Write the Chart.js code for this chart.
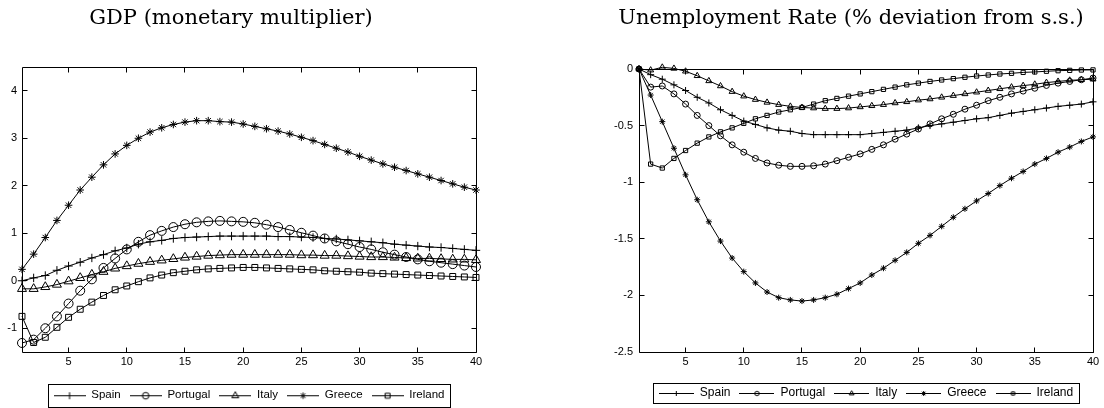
<!DOCTYPE html>
<html>
<head>
<meta charset="utf-8">
<script src="https://cdn.jsdelivr.net/npm/chart.js@4/dist/chart.umd.min.js"></script>
<style>
html,body{margin:0;padding:0;background:#fff;}
#wrap{position:relative;width:1104px;height:408px;overflow:hidden;background:#fff;}
canvas{position:absolute;top:0;}
#gdpChart{left:0;}
#unempChart{left:552px;}
</style>
</head>
<body>
<div id="wrap">
<canvas id="gdpChart" width="552" height="408"></canvas>
<canvas id="unempChart" width="552" height="408"></canvas>
</div>
<script>
// ---------------- data ----------------
const periods = [1,2,3,4,5,6,7,8,9,10,11,12,13,14,15,16,17,18,19,20,21,22,23,24,25,26,27,28,29,30,31,32,33,34,35,36,37,38,39,40];
const countries = ['Spain','Portugal','Italy','Greece','Ireland'];
const markerStyles = ['cross','circle','triangle','star','rect'];

const gdpTitle = 'GDP (monetary multiplier)';
const unempTitle = 'Unemployment Rate (% deviation from s.s.)';

const xTickValues = [5,10,15,20,25,30,35,40];
const gdpYTicks = [-1,0,1,2,3,4];
const unempYTicks = [-2.5,-2,-1.5,-1,-0.5,0];

const gdpSpain    = [0.00,0.06,0.11,0.22,0.31,0.39,0.48,0.55,0.63,0.69,0.77,0.82,0.85,0.89,0.91,0.92,0.93,0.94,0.94,0.94,0.94,0.94,0.93,0.93,0.92,0.91,0.89,0.88,0.86,0.84,0.82,0.80,0.77,0.75,0.73,0.71,0.70,0.68,0.66,0.64];
const gdpPortugal = [-1.31,-1.24,-1.00,-0.75,-0.48,-0.21,0.03,0.27,0.47,0.66,0.82,0.96,1.05,1.13,1.19,1.23,1.25,1.26,1.25,1.24,1.22,1.18,1.13,1.07,1.01,0.95,0.89,0.83,0.77,0.71,0.66,0.60,0.55,0.50,0.45,0.41,0.38,0.35,0.32,0.29];
const gdpItaly    = [-0.17,-0.17,-0.13,-0.08,-0.01,0.06,0.13,0.19,0.26,0.31,0.36,0.40,0.43,0.46,0.49,0.51,0.53,0.54,0.55,0.55,0.55,0.55,0.55,0.55,0.54,0.54,0.53,0.53,0.52,0.51,0.50,0.50,0.49,0.48,0.47,0.47,0.46,0.45,0.45,0.44];
const gdpGreece   = [0.24,0.56,0.91,1.27,1.59,1.91,2.18,2.44,2.67,2.85,3.00,3.13,3.22,3.29,3.34,3.37,3.37,3.35,3.34,3.30,3.25,3.20,3.15,3.09,3.02,2.95,2.87,2.79,2.71,2.62,2.54,2.46,2.39,2.32,2.25,2.18,2.11,2.04,1.97,1.91];
const gdpIreland  = [-0.75,-1.30,-1.19,-0.98,-0.77,-0.60,-0.45,-0.31,-0.19,-0.11,-0.02,0.06,0.12,0.17,0.20,0.23,0.25,0.26,0.27,0.28,0.28,0.27,0.26,0.25,0.24,0.23,0.21,0.20,0.19,0.18,0.16,0.15,0.14,0.13,0.12,0.11,0.10,0.09,0.08,0.07];

const unempSpain    = [0,-0.05,-0.09,-0.14,-0.19,-0.25,-0.30,-0.36,-0.41,-0.46,-0.49,-0.52,-0.54,-0.55,-0.57,-0.58,-0.58,-0.58,-0.58,-0.58,-0.57,-0.56,-0.55,-0.54,-0.52,-0.50,-0.485,-0.47,-0.455,-0.44,-0.43,-0.41,-0.39,-0.375,-0.36,-0.345,-0.33,-0.32,-0.31,-0.29];
const unempPortugal = [0,-0.16,-0.15,-0.22,-0.31,-0.41,-0.50,-0.59,-0.67,-0.735,-0.79,-0.83,-0.85,-0.86,-0.86,-0.855,-0.84,-0.81,-0.78,-0.75,-0.71,-0.67,-0.62,-0.575,-0.53,-0.485,-0.44,-0.40,-0.355,-0.32,-0.28,-0.25,-0.22,-0.195,-0.17,-0.145,-0.125,-0.11,-0.095,-0.08];
const unempItaly    = [0,-0.01,0.015,0.005,-0.02,-0.06,-0.105,-0.15,-0.20,-0.24,-0.27,-0.295,-0.315,-0.33,-0.34,-0.345,-0.35,-0.35,-0.345,-0.335,-0.325,-0.315,-0.30,-0.29,-0.275,-0.265,-0.25,-0.235,-0.22,-0.205,-0.19,-0.175,-0.16,-0.147,-0.135,-0.12,-0.11,-0.10,-0.095,-0.09];
const unempGreece   = [0,-0.23,-0.465,-0.70,-0.935,-1.155,-1.35,-1.52,-1.67,-1.79,-1.89,-1.97,-2.02,-2.04,-2.05,-2.04,-2.02,-1.99,-1.94,-1.89,-1.82,-1.76,-1.69,-1.62,-1.54,-1.47,-1.39,-1.31,-1.235,-1.165,-1.10,-1.03,-0.965,-0.905,-0.84,-0.79,-0.735,-0.69,-0.64,-0.60];
const unempIreland  = [0,-0.84,-0.875,-0.79,-0.72,-0.655,-0.60,-0.555,-0.52,-0.48,-0.44,-0.41,-0.38,-0.36,-0.34,-0.31,-0.28,-0.26,-0.24,-0.22,-0.20,-0.18,-0.16,-0.14,-0.125,-0.11,-0.097,-0.085,-0.073,-0.062,-0.053,-0.044,-0.038,-0.03,-0.026,-0.02,-0.015,-0.012,-0.009,-0.008];

// ---------------- helpers ----------------
Chart.defaults.color = '#000';
const TICK_FONT = {family: "'Liberation Sans', Arial, Helvetica, sans-serif", size: 11};

function drawMarker(g, style, r, cx, cy) {
  if (Chart.helpers && Chart.helpers.drawPoint) {
    Chart.helpers.drawPoint(g, {pointStyle: style, radius: r, rotation: 0, borderWidth: 1}, cx, cy);
    return;
  }
  g.beginPath();
  if (style === 'circle') { g.arc(cx, cy, r, 0, Math.PI*2); }
  else if (style === 'rect') { const s = r*Math.SQRT1_2; g.rect(cx-s, cy-s, 2*s, 2*s); }
  else if (style === 'triangle') { g.moveTo(cx, cy-r); g.lineTo(cx+0.866*r, cy+0.5*r); g.lineTo(cx-0.866*r, cy+0.5*r); g.closePath(); }
  else { g.moveTo(cx, cy-r); g.lineTo(cx, cy+r); g.moveTo(cx-r, cy); g.lineTo(cx+r, cy);
    if (style === 'star') { const d = r*Math.SQRT1_2; g.moveTo(cx-d, cy-d); g.lineTo(cx+d, cy+d); g.moveTo(cx-d, cy+d); g.lineTo(cx+d, cy-d); } }
  g.stroke();
}

function legendIcon(style, r, w, h) {
  const c = document.createElement('canvas');
  c.width = w; c.height = h;
  const g = c.getContext('2d');
  g.strokeStyle = '#000'; g.fillStyle = 'rgba(0,0,0,0)'; g.lineWidth = 1;
  g.beginPath(); g.moveTo(0, Math.floor(h/2)+0.5); g.lineTo(w, Math.floor(h/2)+0.5); g.stroke();
  drawMarker(g, style, r, w/2, Math.floor(h/2)+0.5);
  return c;
}

const framePlugin = {
  id: 'frame',
  beforeDatasetsDraw(chart, args, o) {
    const {ctx, chartArea: a, scales} = chart;
    const x = scales.x, y = scales.y, L = o.tickLength || 5;
    const l = Math.floor(a.left)+0.5, r = Math.floor(a.right)+0.5, t = Math.floor(a.top)+0.5, b = Math.floor(a.bottom)+0.5;
    ctx.save();
    ctx.strokeStyle = '#000'; ctx.lineWidth = 1;
    ctx.beginPath();
    ctx.rect(l, t, r-l, b-t);
    x.ticks.forEach(tk => {
      const px = Math.floor(x.getPixelForValue(tk.value))+0.5;
      ctx.moveTo(px, b); ctx.lineTo(px, b-L);
      ctx.moveTo(px, t); ctx.lineTo(px, t+L);
    });
    y.ticks.forEach(tk => {
      const py = Math.floor(y.getPixelForValue(tk.value))+0.5;
      ctx.moveTo(l, py); ctx.lineTo(l+L, py);
      ctx.moveTo(r, py); ctx.lineTo(r-L, py);
    });
    ctx.stroke();
    ctx.restore();
  },
  afterDraw(chart, args, o) {
    const ctx = chart.ctx;
    ctx.save();
    // panel title
    ctx.font = o.titleFont;
    ctx.fillStyle = '#000';
    ctx.textAlign = 'center';
    ctx.textBaseline = 'alphabetic';
    ctx.fillText(o.title, o.titleX, o.titleY);
    // legend frame
    const lg = chart.legend;
    if (lg && lg.legendHitBoxes && lg.legendHitBoxes.length) {
      let l = Infinity, r = -Infinity, t = Infinity, b = -Infinity;
      lg.legendHitBoxes.forEach(h => {
        l = Math.min(l, h.left); r = Math.max(r, h.left + h.width);
        t = Math.min(t, h.top); b = Math.max(b, h.top + h.height);
      });
      ctx.strokeStyle = '#000'; ctx.lineWidth = 1;
      const x0 = Math.round(l - o.legendPadX) + 0.5, x1 = Math.round(r + o.legendPadX) + 0.5;
      const y0 = Math.round(t - o.legendPadY) + 0.5, y1 = Math.round(b + o.legendPadY) + 0.5;
      ctx.strokeRect(x0, y0, x1 - x0, y1 - y0);
    }
    ctx.restore();
  }
};

function buildChart(canvasId, cfg) {
  const icons = countries.map((c, i) => legendIcon(markerStyles[i], cfg.legendRadii[i], cfg.legendBoxWidth, 12));
  const datasets = countries.map((name, i) => ({
    label: name,
    data: cfg.series[i],
    borderColor: '#000',
    borderWidth: 1,
    tension: 0,
    fill: false,
    clip: false,
    pointStyle: markerStyles[i],
    pointRadius: cfg.radii[i],
    pointBorderColor: '#000',
    pointBorderWidth: 1,
    pointBackgroundColor: 'rgba(0,0,0,0)'
  }));
  const legendHeight = cfg.legendFont + cfg.legendPadding + 10;
  const xAxisHeight = (408 - cfg.padBottom) - legendHeight - cfg.plotBottom;
  return new Chart(document.getElementById(canvasId), {
    type: 'line',
    data: {labels: periods, datasets},
    plugins: [framePlugin],
    options: {
      responsive: false,
      animation: false,
      devicePixelRatio: 1,
      events: [],
      layout: {padding: {left: 0, top: cfg.plotTop, right: cfg.padRight, bottom: cfg.padBottom}},
      scales: {
        x: {
          type: 'linear', min: 1, max: 40,
          grid: {display: false, drawTicks: false},
          border: {display: false},
          afterBuildTicks: s => { s.ticks = xTickValues.map(v => ({value: v})); },
          afterFit: s => { s.height = xAxisHeight; },
          ticks: {font: TICK_FONT, color: '#000', padding: 3, maxRotation: 0, autoSkip: false, callback: v => String(v)}
        },
        y: {
          type: 'linear', min: cfg.yMin, max: cfg.yMax,
          grid: {display: false, drawTicks: false},
          border: {display: false},
          afterBuildTicks: s => { s.ticks = cfg.yTicks.map(v => ({value: v})); },
          afterFit: s => { s.width = cfg.yAxisWidth; },
          ticks: {font: TICK_FONT, color: '#000', padding: cfg.yLabelPad, autoSkip: false, callback: v => String(v)}
        }
      },
      plugins: {
        tooltip: {enabled: false},
        title: {display: false},
        legend: {
          display: true, position: 'bottom', fullSize: false, align: 'center',
          labels: {
            usePointStyle: true,
            pointStyleWidth: cfg.legendBoxWidth,
            padding: cfg.legendPadding,
            color: '#000',
            font: {family: "'Liberation Sans', Arial, Helvetica, sans-serif", size: cfg.legendFont},
            generateLabels: chart => chart.data.datasets.map((ds, i) => ({
              text: ds.label, pointStyle: icons[i], fillStyle: 'rgba(0,0,0,0)',
              strokeStyle: '#000', lineWidth: 1, hidden: false, datasetIndex: i
            }))
          }
        },
        frame: {
          tickLength: 5,
          title: cfg.title, titleX: cfg.titleX, titleY: cfg.titleY,
          titleFont: "21px 'DejaVu Serif', 'Liberation Serif', serif",
          legendPadX: 6, legendPadY: cfg.legendPadY
        }
      }
    }
  });
}

buildChart('gdpChart', {
  series: [gdpSpain, gdpPortugal, gdpItaly, gdpGreece, gdpIreland],
  radii: [4.2, 4.5, 5.2, 3.8, 4.2],
  legendRadii: [3.5, 3.3, 4, 3.2, 3.5],
  yMin: -1.5, yMax: 4.5, yTicks: gdpYTicks,
  plotTop: 67, plotBottom: 352, padRight: 76, padBottom: -3,
  yAxisWidth: 22, yLabelPad: 5,
  legendFont: 11.5, legendPadding: 9, legendBoxWidth: 32, legendPadY: 6,
  title: gdpTitle, titleX: 231, titleY: 24
});

buildChart('unempChart', {
  series: [unempSpain, unempPortugal, unempItaly, unempGreece, unempIreland],
  radii: [3.5, 3, 3.5, 3, 3],
  legendRadii: [2.5, 2.2, 2.8, 2.5, 2.3],
  yMin: -2.5, yMax: 0, yTicks: unempYTicks,
  plotTop: 69, plotBottom: 352, padRight: 11, padBottom: -1,
  yAxisWidth: 87, yLabelPad: 6,
  legendFont: 12, legendPadding: 9, legendBoxWidth: 35, legendPadY: 4,
  title: unempTitle, titleX: 299, titleY: 23.5
});
</script>
</body>
</html>
